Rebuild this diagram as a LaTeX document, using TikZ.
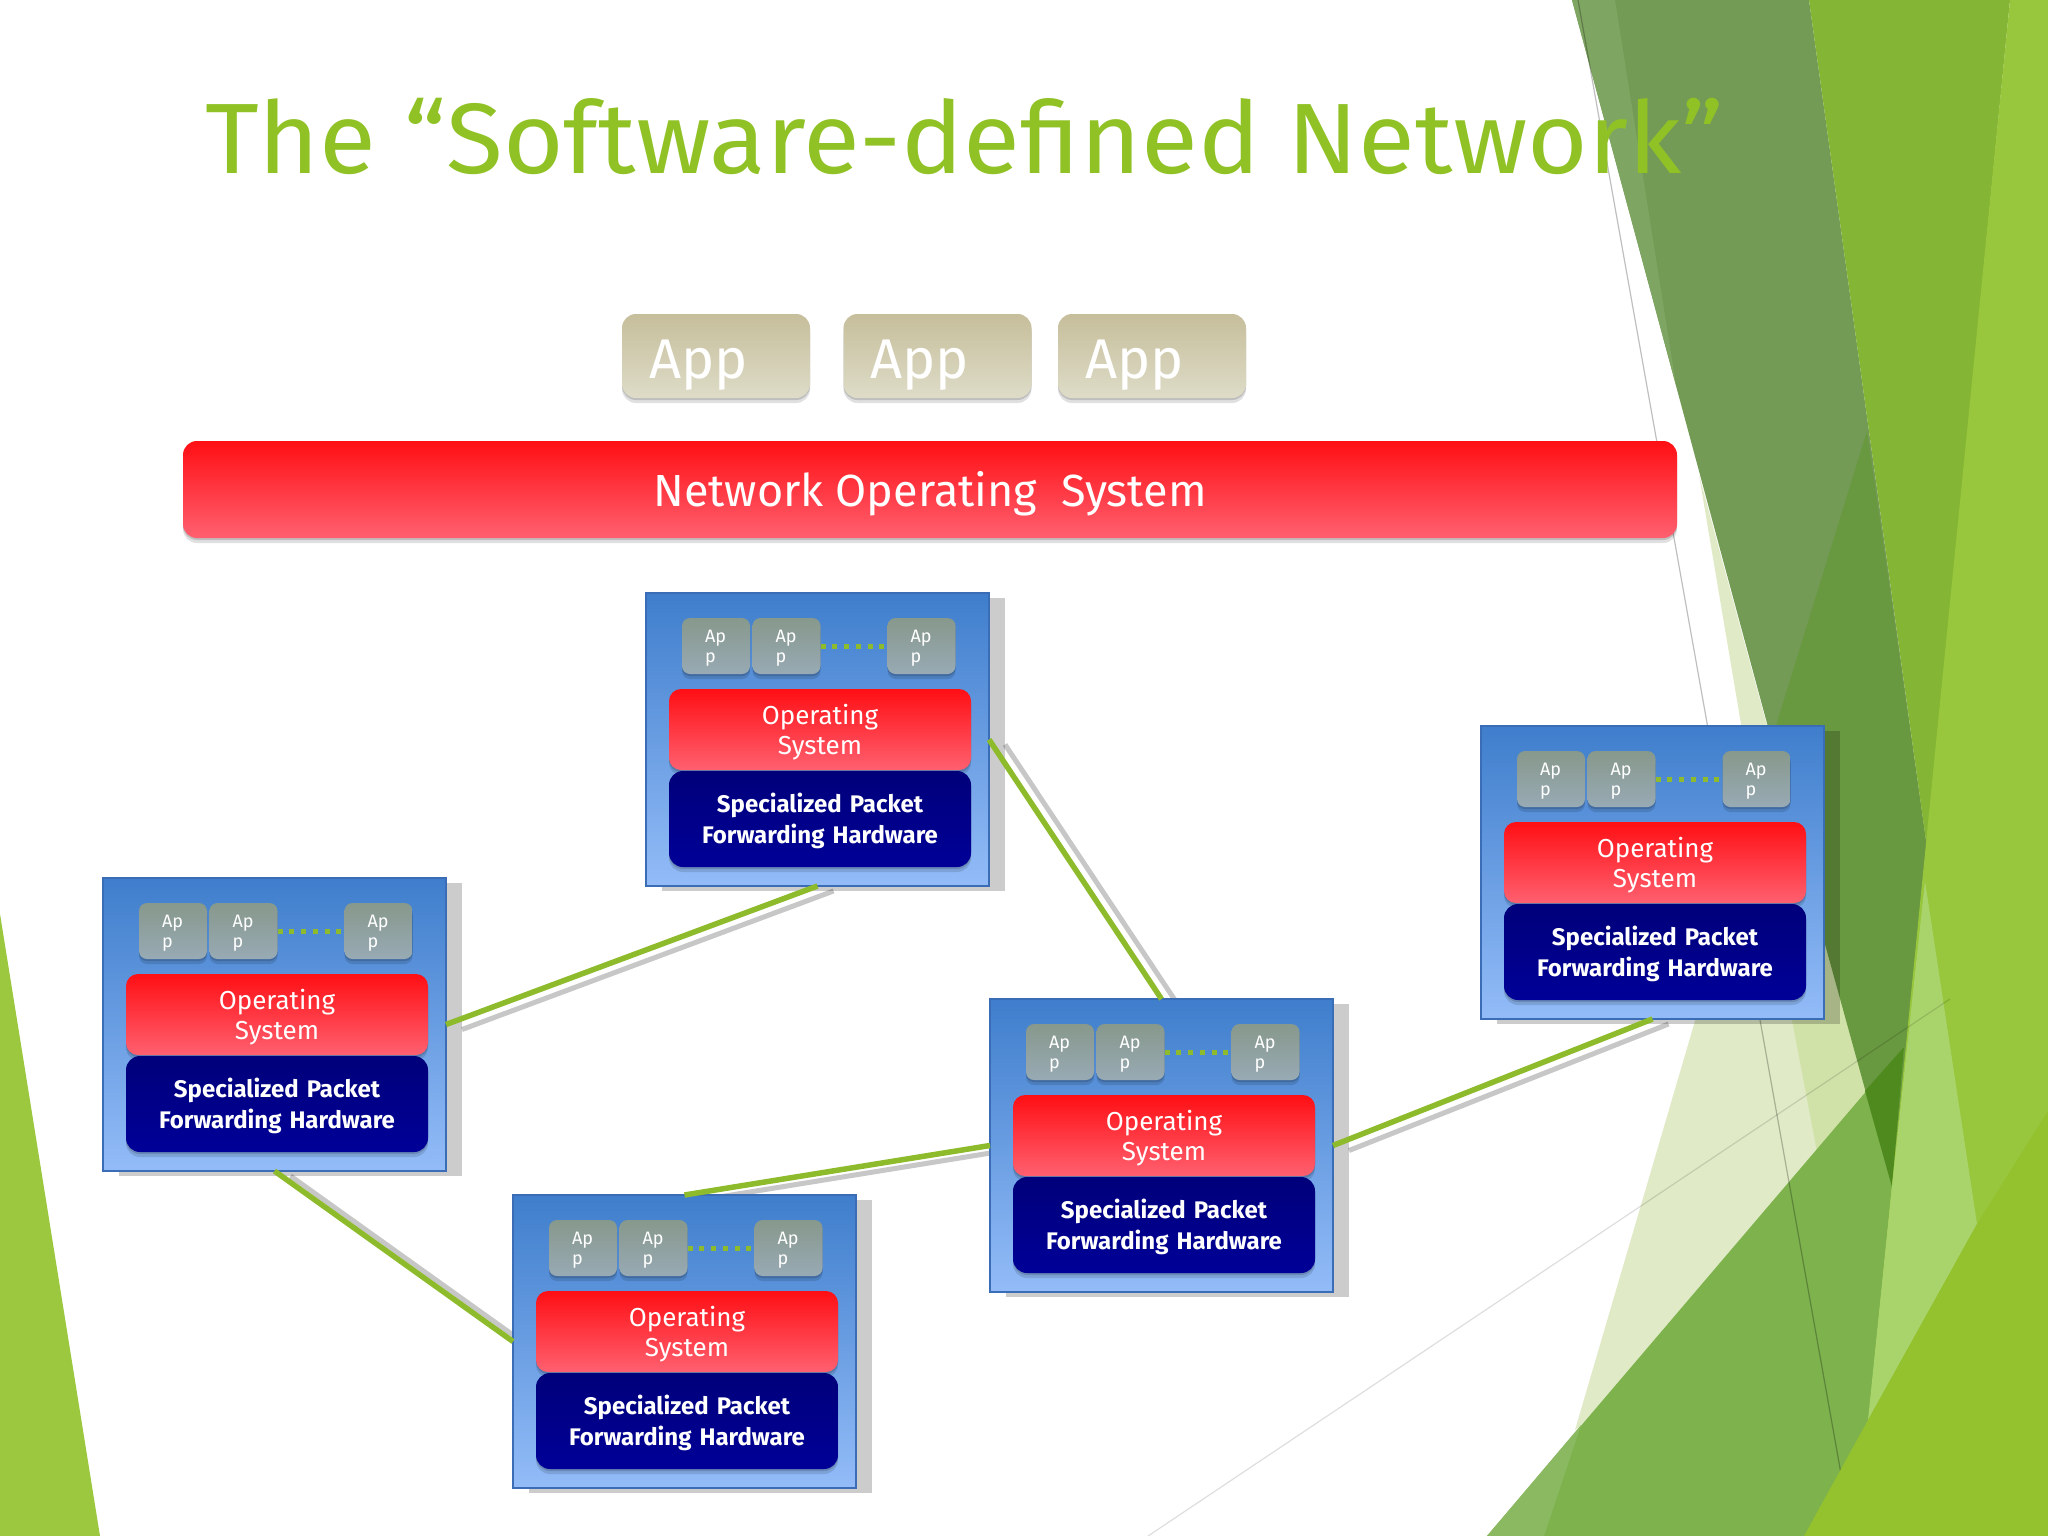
\documentclass[tikz,border=0pt]{standalone}
\usepackage{fontspec}
\setmainfont{Fira Sans}
\usetikzlibrary{shadows}
\pgfdeclarelayer{backdrop}
\pgfdeclarelayer{linkshadow}
\pgfsetlayers{backdrop,linkshadow,main}
\definecolor{titlegreen}{HTML}{90C226}
\definecolor{linkgreen}{HTML}{8DBB2B}
\definecolor{boxtop}{HTML}{3F7ECC}
\definecolor{boxbottom}{HTML}{93BCF8}
\definecolor{boxedge}{HTML}{3A6DB5}
\definecolor{redtop}{HTML}{FF0F14}
\definecolor{redbottom}{HTML}{FF6070}
\definecolor{hwtop}{HTML}{00007A}
\definecolor{hwbottom}{HTML}{000098}
\definecolor{apptop}{HTML}{87988C}
\definecolor{appbottom}{HTML}{98AAB4}
\definecolor{bigtop}{HTML}{C6BE9B}
\definecolor{bigbottom}{HTML}{DEDCC8}
\tikzset{
  softshadow/.style={drop shadow={shadow xshift=0pt,shadow yshift=-2pt,opacity=.15,fill=black},
    drop shadow={shadow xshift=0pt,shadow yshift=-5pt,opacity=.12,fill=black}},
  droptext/.style={execute at begin node={\rule{0pt}{#1}}},
  swbox/.style={rectangle,draw=boxedge,line width=1.5pt,inner sep=0pt,outer sep=0pt,minimum width=343pt,minimum height=293pt,top color=boxtop,bottom color=boxbottom,
    drop shadow={shadow xshift=16pt,shadow yshift=-5pt,opacity=.2,fill=black}},
  appsmall/.style={rectangle,rounded corners=8pt,inner xsep=23pt,inner ysep=0pt,minimum height=56pt,text width=22pt,align=left,text=white,top color=apptop,bottom color=appbottom,font=\fontsize{18}{20}\selectfont,droptext=17pt,softshadow},
  osbar/.style={rectangle,rounded corners=12pt,minimum height=81pt,inner ysep=0pt,inner xsep=11pt,text width=280pt,align=center,text=white,top color=redtop,bottom color=redbottom,font=\fontsize{26}{30}\selectfont,droptext=25pt,softshadow},
  hwbar/.style={rectangle,rounded corners=14pt,minimum height=96pt,inner ysep=0pt,inner xsep=11pt,text width=280pt,align=center,text=white,top color=hwtop,bottom color=hwbottom,font=\fontsize{24}{31}\selectfont\bfseries,droptext=24pt,softshadow},
  appbig/.style={rectangle,rounded corners=14pt,minimum width=188pt,minimum height=84pt,inner sep=0pt,text width=134pt,align=left,text=white,top color=bigtop,bottom color=bigbottom,font=\fontsize{56}{56}\selectfont,droptext=56pt,softshadow},
  nosbar/.style={rectangle,rounded corners=14pt,minimum width=1494pt,minimum height=97pt,inner sep=0pt,text=white,top color=redtop,bottom color=redbottom,font=\fontsize{45}{45}\selectfont,droptext=43pt,softshadow},
  linkfront/.style={draw=linkgreen,line width=5.5pt},
  linkback/.style={draw=black!22,line width=5pt,transform canvas={xshift=16pt,yshift=-5pt}},
  appdots/.style={draw=linkgreen,line width=5pt,dash pattern=on 5pt off 6.7pt},
}
\begin{document}
\begin{tikzpicture}[x=1pt,y=-1pt]
\useasboundingbox (0,0) rectangle (2048,1536);
% background
\begin{pgfonlayer}{backdrop}
\fill[white] (0,0) rectangle (2048,1536);
\fill[fill={rgb,255:red,224;green,234;blue,198}] (1699,475) -- (1756,813) -- (1575,1430) -- (1892,1187) -- cycle;
\fill[fill={rgb,255:red,208;green,226;blue,168}] (1792,1020) -- (1830,1220) -- (1892,1187) -- (1825,942) -- cycle;
\fill[fill={rgb,255:red,116;green,155;blue,85}] (1572,0) -- (1809,0) -- (1927,848) -- (1892,1187) -- cycle;
\fill[fill={rgb,255:red,127;green,165;blue,99}] (1572,0) -- (1615,0) -- (1676,385) -- cycle;
\fill[fill={rgb,255:red,104;green,152;blue,63}] (1867,431) -- (1770,745) -- (1892,1187) -- (1927,848) -- cycle;
\fill[fill={rgb,255:red,125;green,178;blue,77}] (1487,1536) -- (1904,1047) -- (1892,1187) -- (1857,1536) -- cycle;
\fill[fill={rgb,255:red,139;green,185;blue,98}] (1487,1536) -- (1544,1536) -- (1581,1425) -- cycle;
\fill[fill={rgb,255:red,79;green,138;blue,30}] (1865,1091) -- (1904,1047) -- (1892,1187) -- cycle;
\fill[fill={rgb,255:red,133;green,181;blue,53}] (1809,0) -- (2010,0) -- (1927,848) -- cycle;
\fill[fill={rgb,255:red,152;green,198;blue,60}] (2010,0) -- (2048,0) -- (2048,1536) -- (1857,1536) -- cycle;
\fill[fill={rgb,255:red,169;green,212;blue,107}] (1925,881) -- (1977,1224) -- (1868,1420) -- (1892,1187) -- cycle;
\draw[black,opacity=.25,line width=1.2pt] (1578,0) -- (1843,1485);
\draw[black,opacity=.13,line width=1.2pt] (1148,1536) -- (1950,999);
\fill[fill={rgb,255:red,148;green,193;blue,46}] (1804,1536) -- (1868,1420) -- (1977,1224) -- (2048,1111) -- (2048,1536) -- cycle;
\fill[fill={rgb,255:red,156;green,200;blue,63}] (0,914) -- (100,1536) -- (0,1536) -- cycle;
\end{pgfonlayer}
% title
\node[anchor=base west,inner sep=0pt,text=titlegreen,font=\fontsize{100}{100}\selectfont,xscale=1.04] (title) at (205,174) {The “Software-defined Network”};
% apps and network os
\node[appbig] (app1) at (716,356) {App};
\node[appbig] (app2) at (937.5,356) {App};
\node[appbig] (app3) at (1152,356) {App};
\node[nosbar] (nos) at (930,489.5) {Network Operating\ \ System};
% switches
\begin{scope}[shift={(646,593)}]
  \node[swbox] (topsw) at (171.5,146.5) {};
  \node[appsmall] (topa) at (70,53) {Ap\\p};
  \node[appsmall] (topb) at (140.5,53) {Ap\\p};
  \node[appsmall] (topc) at (275.5,53) {Ap\\p};
  \draw[appdots] (topb) -- (topc);
  \node[osbar] (topos) at (174,136.5) {Operating\\System};
  \node[hwbar] (tophw) at (174,226) {Specialized Packet\\Forwarding Hardware};
\end{scope}
\begin{scope}[shift={(103,878)}]
  \node[swbox] (leftsw) at (171.5,146.5) {};
  \node[appsmall] (lefta) at (70,53) {Ap\\p};
  \node[appsmall] (leftb) at (140.5,53) {Ap\\p};
  \node[appsmall] (leftc) at (275.5,53) {Ap\\p};
  \draw[appdots] (leftb) -- (leftc);
  \node[osbar] (leftos) at (174,136.5) {Operating\\System};
  \node[hwbar] (lefthw) at (174,226) {Specialized Packet\\Forwarding Hardware};
\end{scope}
\begin{scope}[shift={(513,1195)}]
  \node[swbox] (lowsw) at (171.5,146.5) {};
  \node[appsmall] (lowa) at (70,53) {Ap\\p};
  \node[appsmall] (lowb) at (140.5,53) {Ap\\p};
  \node[appsmall] (lowc) at (275.5,53) {Ap\\p};
  \draw[appdots] (lowb) -- (lowc);
  \node[osbar] (lowos) at (174,136.5) {Operating\\System};
  \node[hwbar] (lowhw) at (174,226) {Specialized Packet\\Forwarding Hardware};
\end{scope}
\begin{scope}[shift={(990,999)}]
  \node[swbox] (midsw) at (171.5,146.5) {};
  \node[appsmall] (mida) at (70,53) {Ap\\p};
  \node[appsmall] (midb) at (140.5,53) {Ap\\p};
  \node[appsmall] (midc) at (275.5,53) {Ap\\p};
  \draw[appdots] (midb) -- (midc);
  \node[osbar] (midos) at (174,136.5) {Operating\\System};
  \node[hwbar] (midhw) at (174,226) {Specialized Packet\\Forwarding Hardware};
\end{scope}
\begin{scope}[shift={(1481,726)}]
  \node[swbox] (rightsw) at (171.5,146.5) {};
  \node[appsmall] (righta) at (70,53) {Ap\\p};
  \node[appsmall] (rightb) at (140.5,53) {Ap\\p};
  \node[appsmall] (rightc) at (275.5,53) {Ap\\p};
  \draw[appdots] (rightb) -- (rightc);
  \node[osbar] (rightos) at (174,136.5) {Operating\\System};
  \node[hwbar] (righthw) at (174,226) {Specialized Packet\\Forwarding Hardware};
\end{scope}
% links
\begin{pgfonlayer}{linkshadow}
\draw[linkback] (leftsw.east) -- (topsw.south);
\draw[linkback] (topsw.east) -- (midsw.north);
\draw[linkback] (midsw.east) -- (rightsw.south);
\draw[linkback] (midsw.west) -- (lowsw.north);
\draw[linkback] (leftsw.south) -- (lowsw.west);
\end{pgfonlayer}
\draw[linkfront] (leftsw.east) -- (topsw.south);
\draw[linkfront] (topsw.east) -- (midsw.north);
\draw[linkfront] (midsw.east) -- (rightsw.south);
\draw[linkfront] (midsw.west) -- (lowsw.north);
\draw[linkfront] (leftsw.south) -- (lowsw.west);
\end{tikzpicture}
\end{document}
